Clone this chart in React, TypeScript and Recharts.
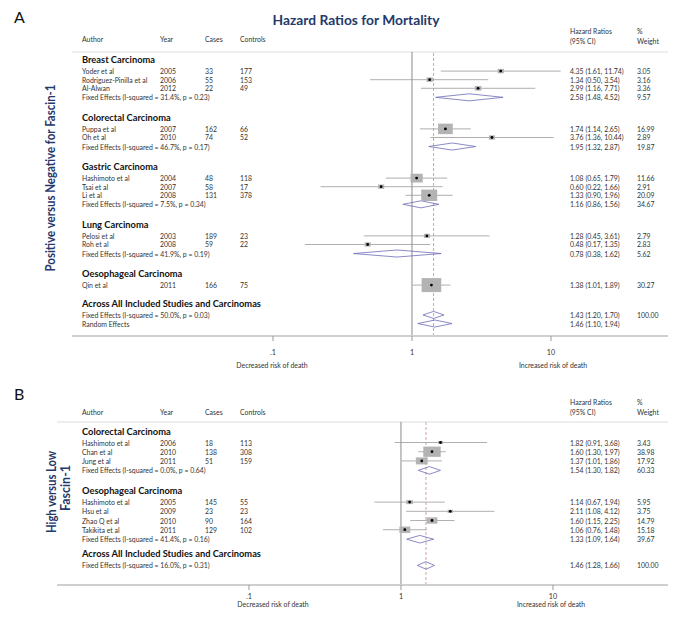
import React from 'react';
import { ComposedChart, XAxis, YAxis, Scatter, Line, ReferenceLine } from 'recharts';

const FONT = 'Lato, "Open Sans", sans-serif';
const NAVY = '#26396b';
const SMALL = 6.9;

// ---------- Panel A: Positive versus Negative for Fascin-1 ----------
const groupsA = ['Breast Carcinoma', 'Colorectal Carcinoma', 'Gastric Carcinoma', 'Lung Carcinoma', 'Oesophageal Carcinoma'];
const studiesA = [
  { group: 0, author: 'Yoder et al', year: 2005, cases: 33, controls: 177, hr: 4.35, lo: 1.61, hi: 11.74, weight: 3.05 },
  { group: 0, author: 'Rodriguez-Pinilla et al', year: 2006, cases: 55, controls: 153, hr: 1.34, lo: 0.5, hi: 3.54, weight: 3.16 },
  { group: 0, author: 'Al-Alwan', year: 2012, cases: 22, controls: 49, hr: 2.99, lo: 1.16, hi: 7.71, weight: 3.36 },
  { group: 1, author: 'Puppa et al', year: 2007, cases: 162, controls: 66, hr: 1.74, lo: 1.14, hi: 2.65, weight: 16.99 },
  { group: 1, author: 'Oh et al', year: 2010, cases: 74, controls: 52, hr: 3.76, lo: 1.36, hi: 10.44, weight: 2.89 },
  { group: 2, author: 'Hashimoto et al', year: 2004, cases: 48, controls: 118, hr: 1.08, lo: 0.65, hi: 1.79, weight: 11.66 },
  { group: 2, author: 'Tsai et al', year: 2007, cases: 58, controls: 17, hr: 0.6, lo: 0.22, hi: 1.66, weight: 2.91 },
  { group: 2, author: 'Li et al', year: 2008, cases: 131, controls: 378, hr: 1.33, lo: 0.9, hi: 1.96, weight: 20.09 },
  { group: 3, author: 'Pelosi et al', year: 2003, cases: 189, controls: 23, hr: 1.28, lo: 0.45, hi: 3.61, weight: 2.79 },
  { group: 3, author: 'Roh et al', year: 2008, cases: 59, controls: 22, hr: 0.48, lo: 0.17, hi: 1.35, weight: 2.83 },
  { group: 4, author: 'Qin et al', year: 2011, cases: 166, controls: 75, hr: 1.38, lo: 1.01, hi: 1.89, weight: 30.27 },
];
const pooledA = [
  { group: 0, i2: 31.4, p: 0.23, hr: 2.58, lo: 1.48, hi: 4.52, weight: 9.57 },
  { group: 1, i2: 46.7, p: 0.17, hr: 1.95, lo: 1.32, hi: 2.87, weight: 19.87 },
  { group: 2, i2: 7.5, p: 0.34, hr: 1.16, lo: 0.86, hi: 1.56, weight: 34.67 },
  { group: 3, i2: 41.9, p: 0.19, hr: 0.78, lo: 0.38, hi: 1.62, weight: 5.62 },
];
const overallA = [
  { kind: 'fixed', i2: 50.0, p: 0.03, hr: 1.43, lo: 1.2, hi: 1.7, weight: 100 },
  { kind: 'random', hr: 1.46, lo: 1.1, hi: 1.94, weight: null },
];

// ---------- Panel B: High versus Low Fascin-1 ----------
const groupsB = ['Colorectal Carcinoma', 'Oesophageal Carcinoma'];
const studiesB = [
  { group: 0, author: 'Hashimoto et al', year: 2006, cases: 18, controls: 113, hr: 1.82, lo: 0.91, hi: 3.68, weight: 3.43 },
  { group: 0, author: 'Chan et al', year: 2010, cases: 138, controls: 308, hr: 1.6, lo: 1.3, hi: 1.97, weight: 38.98 },
  { group: 0, author: 'Jung et al', year: 2011, cases: 51, controls: 159, hr: 1.37, lo: 1.01, hi: 1.86, weight: 17.92 },
  { group: 1, author: 'Hashimoto et al', year: 2005, cases: 145, controls: 55, hr: 1.14, lo: 0.67, hi: 1.94, weight: 5.95 },
  { group: 1, author: 'Hsu et al', year: 2009, cases: 23, controls: 23, hr: 2.11, lo: 1.08, hi: 4.12, weight: 3.75 },
  { group: 1, author: 'Zhao Q et al', year: 2010, cases: 90, controls: 164, hr: 1.6, lo: 1.15, hi: 2.25, weight: 14.79 },
  { group: 1, author: 'Takikita et al', year: 2011, cases: 129, controls: 102, hr: 1.06, lo: 0.76, hi: 1.48, weight: 15.18 },
];
const pooledB = [
  { group: 0, i2: 0.0, p: 0.64, hr: 1.54, lo: 1.3, hi: 1.82, weight: 60.33 },
  { group: 1, i2: 41.4, p: 0.16, hr: 1.33, lo: 1.09, hi: 1.64, weight: 39.67 },
];
const overallB = [
  { kind: 'fixed', i2: 16.0, p: 0.31, hr: 1.46, lo: 1.28, hi: 1.66, weight: 100 },
];

const xTicks = [0.1, 1, 10];
const columnHeaders = ['Author', 'Year', 'Cases', 'Controls'];
const overallHeading = 'Across All Included Studies and Carcinomas';

// ---------- layout helpers ----------
type Sp = { first: number; head: number; study: number; pooled: number; gap: number; overallGap: number };

function buildRows(groups: string[], studies: any[], pooled: any[], overall: any[], sp: Sp) {
  const rows: any[] = [];
  let y = sp.first;
  groups.forEach((g, gi) => {
    if (gi > 0) y += sp.gap;
    rows.push({ kind: 'heading', y, label: g });
    studies.filter((s) => s.group === gi).forEach((s, i) => {
      y += i === 0 ? sp.head : sp.study;
      rows.push({ ...s, kind: 'study', y });
    });
    const p = pooled.find((q) => q.group === gi);
    if (p) {
      y += sp.pooled;
      rows.push({ ...p, kind: 'pooled', y });
    }
  });
  y += sp.overallGap;
  rows.push({ kind: 'heading', y, label: overallHeading });
  overall.forEach((o, i) => {
    y += i === 0 ? sp.head : sp.study;
    rows.push({ ...o, y });
  });
  return rows;
}

const COL = { author: 82, year: 160, cases: 205, controls: 240, hr: 570, weight: 637 };
const fmt = (v: number) => v.toFixed(2);
const hrText = (r: any) => `${fmt(r.hr)} (${fmt(r.lo)}, ${fmt(r.hi)})`;

const smallText = (x: number, y: number, s: string, key: string) => (
  <text key={key} x={x} y={y} dominantBaseline="central" fontSize={SMALL} fill="#333" fontFamily={FONT}>{s}</text>
);

const TextRow = (props: any) => {
  const { cy, payload: r } = props;
  if (cy == null || !r) return <g />;
  if (r.kind === 'heading') {
    return (
      <text x={COL.author} y={cy} dominantBaseline="central" fontSize={9.3} fontWeight={700} fill="#111" fontFamily={FONT}>{r.label}</text>
    );
  }
  const items: any[] = [];
  if (r.kind === 'study') {
    items.push(smallText(COL.author, cy, r.author, 'a'));
    items.push(smallText(COL.year, cy, String(r.year), 'y'));
    items.push(smallText(COL.cases, cy, String(r.cases), 'c'));
    items.push(smallText(COL.controls, cy, String(r.controls), 'k'));
  } else if (r.kind === 'pooled' || r.kind === 'fixed') {
    items.push(smallText(COL.author, cy, `Fixed Effects (I-squared = ${r.i2.toFixed(1)}%, p = ${fmt(r.p)})`, 'a'));
  } else if (r.kind === 'random') {
    items.push(smallText(COL.author, cy, 'Random Effects', 'a'));
  }
  items.push(smallText(COL.hr, cy, hrText(r), 'h'));
  if (r.weight != null) items.push(smallText(COL.weight, cy, fmt(r.weight), 'w'));
  return <g>{items}</g>;
};

const makeBox = (k: number, aspect: number) => (props: any) => {
  const { cx, cy, payload } = props;
  if (cx == null || cy == null) return <g />;
  const w = Math.sqrt(k * aspect * payload.weight);
  const h = w / aspect;
  return (
    <g>
      <rect x={cx - w / 2} y={cy - h / 2} width={w} height={h} fill="#b3b3b3" />
      <circle cx={cx} cy={cy} r={1.4} fill="#000" />
    </g>
  );
};

type PanelCfg = {
  rows: any[];
  top: number;
  height: number;
  margin: { top: number; right: number; bottom: number; left: number };
  xDomain: [number, number];
  yMax: number;
  boxK: number;
  boxAspect: number;
  refHr: number;
  tickMargin: number;
};

function ForestPanel({ cfg }: { cfg: PanelCfg }) {
  const { rows } = cfg;
  const studyRows = rows.filter((r) => r.kind === 'study');
  const ciData = studyRows.flatMap((r) => [
    { x: r.lo, y: r.y },
    { x: r.hi, y: r.y },
    { x: r.hi, y: null },
  ]);
  const dh = 0.41;
  const diamondData = rows
    .filter((r) => r.kind === 'pooled' || r.kind === 'fixed' || r.kind === 'random')
    .flatMap((r) => [
      { x: r.lo, y: r.y },
      { x: r.hr, y: r.y - dh },
      { x: r.hi, y: r.y },
      { x: r.hr, y: r.y + dh },
      { x: r.lo, y: r.y },
      { x: r.lo, y: null },
    ]);
  const boxData = studyRows.map((r) => ({ x: r.hr, y: r.y, weight: r.weight }));
  const textData = rows.map((r) => ({ ...r, x: 1 }));

  return (
    <div style={{ position: 'absolute', left: 0, top: cfg.top, width: 685, height: cfg.height }}>
      <ComposedChart width={685} height={cfg.height} margin={cfg.margin}>
        <XAxis
          type="number"
          dataKey="x"
          scale="log"
          domain={cfg.xDomain}
          ticks={xTicks}
          tickFormatter={(v: number) => (v < 1 ? '.' + String(v).split('.')[1] : String(v))}
          height={20}
          axisLine={{ stroke: '#cfcfcf', strokeWidth: 2 }}
          tickLine={{ stroke: '#9a9a9a' }}
          tickSize={5}
          tickMargin={cfg.tickMargin}
          tick={{ fontSize: 7.2, fill: '#333', fontFamily: FONT }}
        />
        <YAxis type="number" dataKey="y" domain={[0, cfg.yMax]} reversed hide />
        <ReferenceLine y={0} stroke="#dddddd" />
        <ReferenceLine x={1} stroke="#8a8a8a" />
        <ReferenceLine x={cfg.refHr} stroke="#d5a2a2" strokeDasharray="3 2" />
        <Line
          data={ciData}
          dataKey="y"
          type="linear"
          stroke="#9a9a9a"
          strokeWidth={0.8}
          dot={false}
          activeDot={false}
          isAnimationActive={false}
          legendType="none"
        />
        <Scatter data={boxData} shape={makeBox(cfg.boxK, cfg.boxAspect)} isAnimationActive={false} legendType="none" />
        <Line
          data={diamondData}
          dataKey="y"
          type="linear"
          stroke="#6c6cb8"
          strokeWidth={0.8}
          dot={false}
          activeDot={false}
          isAnimationActive={false}
          legendType="none"
        />
        <Scatter data={textData} shape={TextRow} isAnimationActive={false} legendType="none" />
      </ComposedChart>
    </div>
  );
}

const rowsA = buildRows(groupsA, studiesA, pooledA, overallA, {
  first: 0.85, head: 1.37, study: 1.0, pooled: 1.05, gap: 2.3, overallGap: 2.1,
});
const rowsB = buildRows(groupsB, studiesB, pooledB, overallB, {
  first: 0.98, head: 1.25, study: 1.0, pooled: 1.03, gap: 2.2, overallGap: 1.6,
});

const cfgA: PanelCfg = {
  rows: rowsA,
  top: 0,
  height: 375,
  margin: { top: 52, right: 17, bottom: 19, left: 72 },
  xDomain: [0.00358, 69.5],
  yMax: 33.02,
  boxK: 9.1,
  boxAspect: 1.4,
  refHr: overallA[0].hr,
  tickMargin: 9,
};
const cfgB: PanelCfg = {
  rows: rowsB,
  top: 375,
  height: 248,
  margin: { top: 47, right: 17, bottom: 18, left: 57 },
  xDomain: [0.00546, 57.1],
  yMax: 17.72,
  boxK: 4.6,
  boxAspect: 1.7,
  refHr: overallB[0].hr,
  tickMargin: 3.5,
};

const hdr = (x: number, y: number, s: string, anchor: any = 'start') => (
  <text key={s + x + y} x={x} y={y} fontSize={SMALL} fill="#333" fontFamily={FONT} textAnchor={anchor}>{s}</text>
);

function Overlay() {
  return (
    <svg width={685} height={623} style={{ position: 'absolute', left: 0, top: 0, pointerEvents: 'none' }}>
      {/* Panel A */}
      <text x={14} y={23} fontSize={16} fill="#111" fontFamily={FONT}>A</text>
      <text x={356} y={25} fontSize={13} fontWeight={700} fill={NAVY} fontFamily={FONT} textAnchor="middle" textLength={167} lengthAdjust="spacingAndGlyphs">
        Hazard Ratios for Mortality
      </text>
      {hdr(COL.author, 42, columnHeaders[0])}
      {hdr(COL.year, 42, columnHeaders[1])}
      {hdr(COL.cases, 42, columnHeaders[2])}
      {hdr(COL.controls, 42, columnHeaders[3])}
      {hdr(COL.hr, 34, 'Hazard Ratios')}
      {hdr(COL.hr, 44, '(95% CI)')}
      {hdr(COL.weight, 34, '%')}
      {hdr(COL.weight, 44, 'Weight')}
      {hdr(272, 368, 'Decreased risk of  death', 'middle')}
      {hdr(553, 368, 'Increased risk of death', 'middle')}
      <text transform="translate(50, 178) rotate(-90)" textAnchor="middle" dominantBaseline="central" fontSize={13} fontWeight={700} fill={NAVY} fontFamily={FONT} textLength={187} lengthAdjust="spacingAndGlyphs">
        Positive versus Negative  for Fascin-1
      </text>
      {/* Panel B */}
      <text x={14} y={400} fontSize={16} fill="#111" fontFamily={FONT}>B</text>
      {hdr(COL.author, 415, columnHeaders[0])}
      {hdr(COL.year, 415, columnHeaders[1])}
      {hdr(COL.cases, 415, columnHeaders[2])}
      {hdr(COL.controls, 415, columnHeaders[3])}
      {hdr(COL.hr, 405, 'Hazard Ratios')}
      {hdr(COL.hr, 415, '(95% CI)')}
      {hdr(COL.weight, 405, '%')}
      {hdr(COL.weight, 415, 'Weight')}
      {hdr(273, 607, 'Decreased risk of death', 'middle')}
      {hdr(551, 607, 'Increased risk of death', 'middle')}
      <text transform="translate(51, 492) rotate(-90)" textAnchor="middle" dominantBaseline="central" fontSize={13} fontWeight={700} fill={NAVY} fontFamily={FONT} textLength={82} lengthAdjust="spacingAndGlyphs">
        High versus Low
      </text>
      <text transform="translate(65, 488) rotate(-90)" textAnchor="middle" dominantBaseline="central" fontSize={13} fontWeight={700} fill={NAVY} fontFamily={FONT} textLength={46} lengthAdjust="spacingAndGlyphs">
        Fascin-1
      </text>
    </svg>
  );
}

export default function App() {
  return (
    <div style={{ position: 'absolute', left: 0, top: 0, width: 685, height: 623, background: '#fff', fontFamily: FONT }}>
      <ForestPanel cfg={cfgA} />
      <ForestPanel cfg={cfgB} />
      <Overlay />
    </div>
  );
}
